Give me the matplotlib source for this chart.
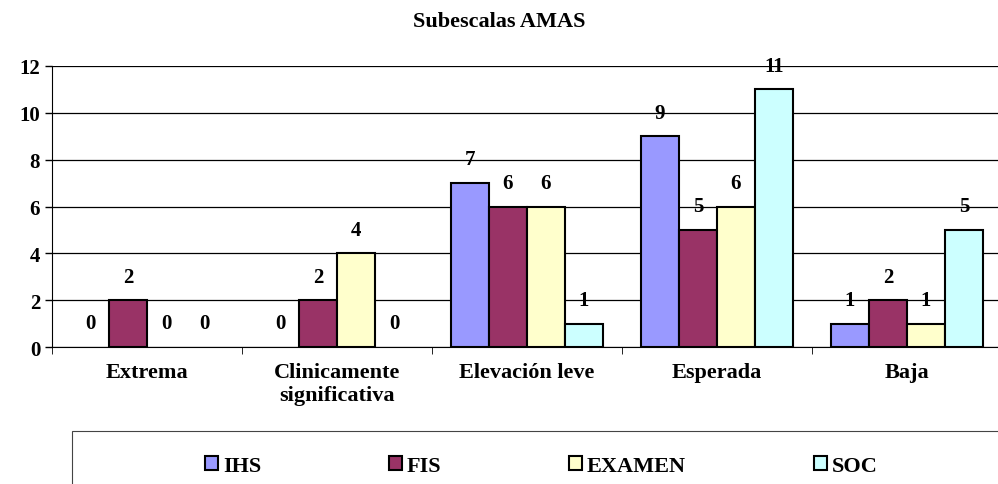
import numpy as np
import matplotlib.pyplot as plt
from matplotlib.patches import Rectangle, Patch

categorias = ['Extrema', 'Clinicamente\nsignificativa', 'Elevación leve', 'Esperada', 'Baja']
series = ['IHS', 'FIS', 'EXAMEN', 'SOC']
ihs = [0, 0, 7, 9, 1]
fis = [2, 2, 6, 5, 2]
examen = [0, 4, 6, 6, 1]
soc = [0, 0, 1, 11, 5]
colores = ['#9999FF', '#993366', '#FFFFCC', '#CCFFFF']

plt.rcParams['font.family'] = ['Liberation Serif', 'DejaVu Serif']
plt.rcParams['font.weight'] = 'bold'

fig = plt.figure(figsize=(9.98, 4.85), dpi=100)
ax = fig.add_axes([52 / 998, 1 - 348 / 485, 1 - 52 / 998 + 0.004, (348 - 67) / 485])

x = np.arange(len(categorias))
ancho = 0.2
for i, (nombre, valores) in enumerate(zip(series, [ihs, fis, examen, soc])):
    pos = x + (i - 1.5) * ancho
    barras = ax.bar(pos, valores, ancho, color=colores[i], edgecolor='black',
                    linewidth=1.5, zorder=3)
    # las barras en cero no se dibujan
    for b, v in zip(barras, valores):
        if v == 0:
            b.set_visible(False)
    for p, v in zip(pos, valores):
        ax.annotate(str(v), (p, v), xytext=(0, 17), textcoords='offset points',
                    ha='center', va='center', fontsize=15, fontweight='bold')

ax.set_ylim(0, 12)
ax.set_yticks(range(0, 13, 2))
ax.set_xlim(-0.5, len(categorias) - 0.5)
ax.set_xticks(x)
ax.set_xticklabels(categorias, fontsize=16, fontweight='bold')
ax.set_xticks(np.arange(-0.5, len(categorias), 1), minor=True)
ax.tick_params(axis='x', which='major', length=0, pad=11)
ax.tick_params(axis='x', which='minor', length=5, direction='out')
ax.tick_params(axis='y', labelsize=15, length=5, width=1)
for lbl in ax.get_yticklabels():
    lbl.set_fontweight('bold')
ax.grid(axis='y', color='black', linewidth=0.9, zorder=0)
ax.spines['top'].set_visible(False)
ax.spines['right'].set_visible(False)

fig.text(0.5, 1 - 22 / 485, 'Subescalas AMAS', ha='center', va='center',
         fontsize=16, fontweight='bold')

# caja de leyenda
fig.patches.append(Rectangle((72 / 998, -0.05), 1.0, 0.05 + (485 - 432) / 485,
                             transform=fig.transFigure, fill=False,
                             edgecolor='#444444', linewidth=0.8))
h = [Patch(facecolor=c, edgecolor='black', linewidth=1.5) for c in colores]
fig.legend(h, series, ncol=4, loc='center left', bbox_to_anchor=(194 / 998, 1 - 467 / 485),
           frameon=False, handlelength=0.6, handleheight=0.6, borderpad=0,
           handletextpad=0.2, columnspacing=5.75, prop={'weight': 'bold', 'size': 16})

fig.savefig('out.png', dpi=100)
